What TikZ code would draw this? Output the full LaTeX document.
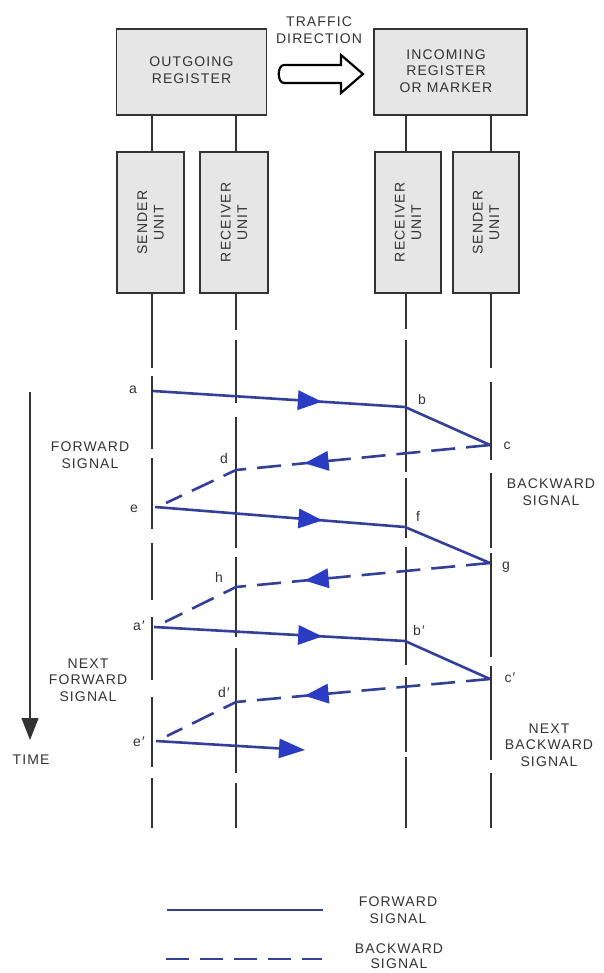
\documentclass[tikz,border=0pt]{standalone}
\usepackage{fontspec}
\setmainfont{Liberation Sans}
\newfontfamily\labfont[LetterSpace=8]{Liberation Sans}
\usetikzlibrary{arrows.meta,decorations.markings,calc}
\definecolor{sig}{HTML}{33409A}
\definecolor{tri}{HTML}{2A3CC4}
\definecolor{ink}{HTML}{333333}
\definecolor{boxfill}{HTML}{E6E6E6}
\begin{document}
\begin{tikzpicture}[x=1pt,y=-1pt,
  lab/.style={text=ink,font=\labfont\fontsize{14}{16.5}\selectfont,align=center,inner sep=0pt},
  regbox/.style={draw=ink,fill=boxfill,line width=1.2,minimum width=150,minimum height=86,inner sep=0pt},
  unitbox/.style={draw=ink,fill=boxfill,line width=1.2,minimum width=67,minimum height=141,inner sep=0pt},
  wire/.style={draw=ink,line width=1.1},
  fwd/.style={draw=sig,line width=2.6,line join=round},
  bwd/.style={draw=sig,line width=2.6,dash pattern=on 24pt off 11pt},
  fmark/.style={postaction={decorate},decoration={markings,mark=at position #1 with {\fill[tri] (-24,-10) -- (0,0) -- (-24,10) -- cycle;}}}
]
\useasboundingbox (0,0) rectangle (603,973);
\fill[white] (0,0) rectangle (603,973);

% register boxes
\node[regbox] (outreg) at (191.5,72) {};
\node[lab] at (191.5,70) {OUTGOING\\REGISTER};
\node[regbox,minimum width=153] (inreg) at (450.5,72) {};
\node[lab] at (446,71) {INCOMING\\REGISTER\\OR MARKER};

% traffic direction
\node[lab] (traffic) at (319,30) {TRAFFIC\\DIRECTION};
\draw[draw=black,fill=white,line width=2.2,line join=miter]
  (284,65) -- (341,65) -- (341,55) -- (363,74) -- (341,93) -- (341,83) -- (284,83)
  .. controls (277,83) and (277,65) .. (284,65) -- cycle;

% unit boxes
\node[unitbox] (sL) at (150.5,222.5) {};
\node[lab,rotate=90] at (150.5,222.5) {SENDER\\UNIT};
\node[unitbox,minimum width=68] (rL) at (234,222.5) {};
\node[lab,rotate=90] at (234,222.5) {RECEIVER\\UNIT};
\node[unitbox,minimum width=66] (rR) at (408,222.5) {};
\node[lab,rotate=90] at (408,222.5) {RECEIVER\\UNIT};
\node[unitbox,minimum width=66] (sR) at (486,222.5) {};
\node[lab,rotate=90] at (486,222.5) {SENDER\\UNIT};

% links between register and units
\draw[wire] (outreg.south -| 152,0) -- (sL.north -| 152,0);
\draw[wire] (outreg.south -| 236,0) -- (rL.north -| 236,0);
\draw[wire] (inreg.south -| 406,0) -- (rR.north -| 406,0);
\draw[wire] (inreg.south -| 491,0) -- (sR.north -| 491,0);

% lifelines (broken)
\foreach \ya/\yb in {293/368,376/449,458/529,543/600,617/680,697/767,778/828}
  \draw[wire] (152,\ya) -- (152,\yb);
\foreach \ya/\yb in {293/330,340/403,417/548,557/637,648/773,783/828}
  \draw[wire] (236,\ya) -- (236,\yb);
\foreach \ya/\yb in {293/329,340/472,478/538,547/665,677/752,757/828}
  \draw[wire] (406,\ya) -- (406,\yb);
\foreach \ya/\yb in {293/368,382/460,473/548,553/657,666/760,773/828}
  \draw[wire] (491,\ya) -- (491,\yb);

% signal points
\coordinate (a) at (153,391); \coordinate (b) at (405,407); \coordinate (c) at (490,445);
\coordinate (d) at (236,470); \coordinate (d2) at (166,503);
\coordinate (e) at (155,507); \coordinate (f) at (405,527); \coordinate (g) at (490,563);
\coordinate (h) at (236,587); \coordinate (h2) at (165,622);
\coordinate (a1) at (154,627); \coordinate (b1) at (405,641); \coordinate (c1) at (490,679);
\coordinate (d1) at (236,702); \coordinate (d12) at (167,736);
\coordinate (e1) at (156,741); \coordinate (e1end) at (305,750);

% forward signals
\draw[fwd] (a) -- (b) -- (c);  \path[fmark=0.67] (a) -- (b);
\draw[fwd] (e) -- (f) -- (g);  \path[fmark=0.67] (e) -- (f);
\draw[fwd] (a1) -- (b1) -- (c1); \path[fmark=0.67] (a1) -- (b1);
\draw[fwd,-{Triangle[length=26pt,width=19pt,color=tri]}] (e1) -- (e1end);

% backward signals
\draw[bwd] (c) -- (d) -- (d2);  \path[fmark=0.73] (c) -- (d);
\draw[bwd] (g) -- (h) -- (h2);  \path[fmark=0.73] (g) -- (h);
\draw[bwd] (c1) -- (d1) -- (d12); \path[fmark=0.73] (c1) -- (d1);

% point labels
\node[lab] (la) at (133,390) {a};
\node[lab] (lb) at (422,399) {b};
\node[lab] (lc) at (507,446) {c};
\node[lab] (ld) at (224,458) {d};
\node[lab] (le) at (134,509) {e};
\node[lab] (lf) at (418,516) {f};
\node[lab] (lg) at (506,567) {g};
\node[lab] (lh) at (219,577) {h};
\node[lab] (la1) at (139,626) {a′};
\node[lab] (lb1) at (419,630) {b′};
\node[lab] (lc1) at (510,678) {c′};
\node[lab] (ld1) at (224,692) {d′};
\node[lab] (le1) at (139,742) {e′};

% side labels
\node[lab] (fwdsig) at (90,455) {FORWARD\\SIGNAL};
\node[lab] (nfwd) at (88,680) {NEXT\\FORWARD\\SIGNAL};
\node[lab] (bwdsig) at (551,492) {BACKWARD\\SIGNAL};
\node[lab] (nbwd) at (549,745) {NEXT\\BACKWARD\\SIGNAL};

% time arrow
\coordinate (t0) at (30,392);
\coordinate (t1) at (30,740);
\draw[draw=ink,line width=1.1,-{Triangle[length=22pt,width=17pt,color=ink]}] (t0) -- (t1);
\node[lab] (time) at (31,760) {TIME};

% legend
\coordinate (l1a) at (167,910); \coordinate (l1b) at (323,910);
\coordinate (l2a) at (166,959); \coordinate (l2b) at (322,959);
\draw[fwd] (l1a) -- (l1b);
\draw[bwd,dash pattern=on 23pt off 11pt] (l2a) -- (l2b);
\node[lab] (legf) at (398,910) {FORWARD\\SIGNAL};
\node[lab,font=\labfont\fontsize{14}{15.5}\selectfont] (legb) at (399,956) {BACKWARD\\SIGNAL};
\end{tikzpicture}
\end{document}
